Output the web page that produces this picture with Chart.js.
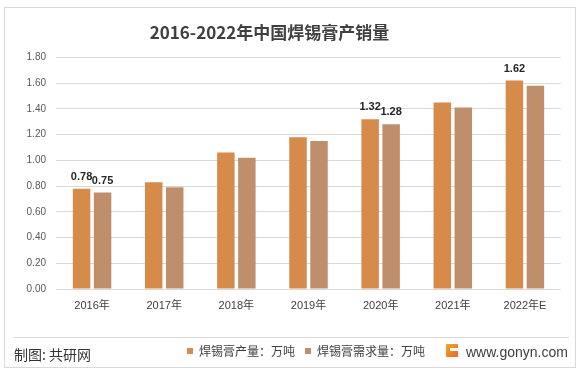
<!DOCTYPE html>
<html>
<head>
<meta charset="utf-8">
<script src="https://cdn.jsdelivr.net/npm/chart.js@4.4.1/dist/chart.umd.min.js"></script>
<style>
  html, body { margin: 0; padding: 0; background: #ffffff; }
  #wrap { position: relative; width: 582px; height: 372px; overflow: hidden; }
  #c { position: absolute; left: 0; top: 0; }
  #frame { position: absolute; left: 4px; top: 7px; width: 570px; height: 359px; border: 1px solid #d9d9d9; box-sizing: content-box; pointer-events: none; }
  #divider { position: absolute; left: 14px; top: 337px; width: 555px; height: 1px; background: #d9d9d9; }
  #credit { position: absolute; left: 14px; top: 345px; font: 14px "Noto Sans CJK SC", sans-serif; color: #333333; line-height: 18px; }
  #logo { position: absolute; left: 446px; top: 344px; width: 12px; height: 13px; background: linear-gradient(135deg, #f5a623, #e8682a); border-radius: 1px; }
  #logo:after { content: ""; position: absolute; left: 4px; top: 4px; width: 8px; height: 3px; background: #ffffff; }
  #url { position: absolute; left: 466px; top: 343px; font: 14px "Liberation Sans", Arial, sans-serif; color: #404040; line-height: 18px; }
</style>
</head>
<body>
<div id="wrap">
  <canvas id="c" width="582" height="372"></canvas>
  <div id="frame"></div>
  <div id="divider"></div>
  <div id="credit">制图: 共研网</div>
  <div id="logo"></div>
  <div id="url">www.gonyn.com</div>
</div>
<script>
// ---- data ----
const categories = ['2016年', '2017年', '2018年', '2019年', '2020年', '2021年', '2022年E'];
const productionName = '焊锡膏产量：万吨';
const demandName = '焊锡膏需求量：万吨';
const production = [0.78, 0.83, 1.06, 1.18, 1.32, 1.45, 1.62];
const demand = [0.75, 0.79, 1.02, 1.15, 1.28, 1.41, 1.58];
const productionLabelShown = [true, false, false, false, true, false, true];
const demandLabelShown = [true, false, false, false, true, false, false];
const yTickLabels = ['0.00', '0.20', '0.40', '0.60', '0.80', '1.00', '1.20', '1.40', '1.60', '1.80'];
const chartTitle = '2016-2022年中国焊锡膏产销量';

const FONT_LATIN = '"Liberation Sans", "Noto Sans CJK SC", sans-serif';
const FONT_CJK = '"Noto Sans CJK SC", "Liberation Sans", sans-serif';

const valueLabels = {
  id: 'valueLabels',
  afterDatasetsDraw(chart) {
    const ctx = chart.ctx;
    const shown = [productionLabelShown, demandLabelShown];
    ctx.save();
    ctx.font = 'bold 11px ' + FONT_LATIN;
    ctx.fillStyle = '#262626';
    ctx.textAlign = 'center';
    ctx.textBaseline = 'middle';
    chart.data.datasets.forEach((ds, di) => {
      const meta = chart.getDatasetMeta(di);
      meta.data.forEach((bar, i) => {
        if (!shown[di][i]) return;
        ctx.fillText(ds.data[i].toFixed(2), bar.x, bar.y - 12);
      });
    });
    ctx.restore();
  }
};

const placeBlocks = {
  id: 'placeBlocks',
  afterLayout(chart) {
    const t = chart.titleBlock;
    if (t) { t.left -= 22; t.right -= 22; }
    const lg = chart.legend;
    if (lg && lg.lineWidths) {
      const p = lg.options.labels.padding;
      const start = (lg.left + p + lg.right - lg.lineWidths[0]) / 2;
      const d = 187 - start;
      lg.left += d; lg.right += d;
    }
  }
};

new Chart(document.getElementById('c'), {
  type: 'bar',
  data: {
    labels: categories,
    datasets: [
      { label: productionName, data: production, backgroundColor: '#D68B4B', borderWidth: 0 },
      { label: demandName, data: demand, backgroundColor: '#BF8F6C', borderWidth: 0 }
    ]
  },
  options: {
    responsive: false,
    animation: false,
    devicePixelRatio: 1,
    events: [],
    datasets: { bar: { categoryPercentage: 0.582, barPercentage: 0.833 } },
    layout: { padding: { left: 22, right: 21, top: 0, bottom: 5 } },
    plugins: {
      title: {
        display: true,
        text: chartTitle,
        color: '#404040',
        font: { family: FONT_CJK, size: 17, weight: 'bold' },
        padding: { top: 22, bottom: 15 }
      },
      legend: {
        display: true,
        position: 'bottom',
        labels: {
          boxWidth: 6, boxHeight: 6, padding: 10,
          color: '#404040',
          font: { family: FONT_CJK, size: 12 }
        }
      },
      tooltip: { enabled: false }
    },
    scales: {
      x: {
        grid: { display: false, drawTicks: false },
        border: { display: false },
        ticks: { color: '#404040', font: { family: FONT_LATIN, size: 11 }, padding: 10 },
        afterFit(scale) { scale.height = 46; }
      },
      y: {
        min: 0, max: 1.8,
        grid: { color: '#d9d9d9', lineWidth: 1, drawTicks: false },
        border: { display: false },
        ticks: {
          stepSize: 0.2,
          padding: 10,
          color: '#595959',
          font: { family: FONT_LATIN, size: 10 },
          callback: (v, i) => yTickLabels[i]
        },
        afterFit(scale) { scale.width = 34; }
      }
    }
  },
  plugins: [valueLabels, placeBlocks]
});
</script>
</body>
</html>
